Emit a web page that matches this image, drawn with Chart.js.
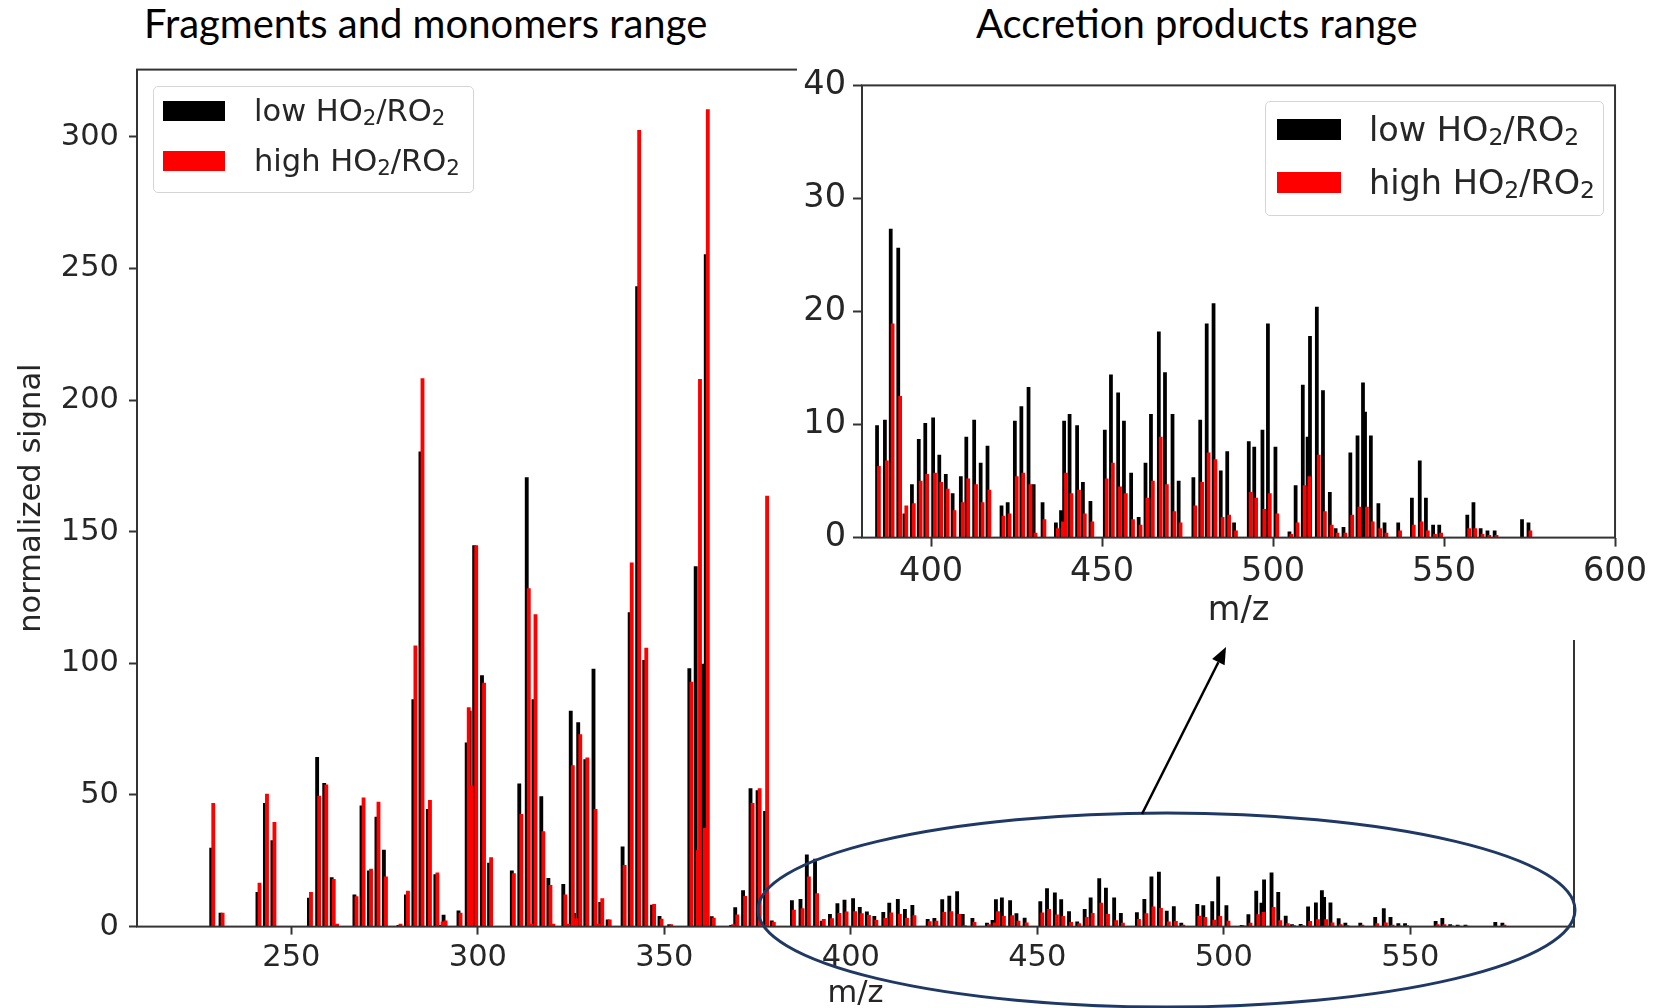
<!DOCTYPE html>
<html>
<head>
<meta charset="utf-8">
<title>Fragments / accretion products spectrum</title>
<script src="https://cdn.jsdelivr.net/npm/chart.js@4.4.1/dist/chart.umd.min.js"></script>
<style>
  html, body { margin: 0; padding: 0; background: #fff; }
  body { position: relative; width: 1653px; height: 1008px; overflow: hidden; font-family: 'DejaVu Sans', sans-serif; }
  #mainWrap { position: absolute; left: 0; top: 0; width: 1653px; height: 1008px; }
  #insetWrap { position: absolute; left: 797px; top: 50px; width: 856px; height: 590px; background: #fff; }
  .title { position: absolute; top: 3px; font-family: Lato, 'Open Sans', sans-serif; font-size: 40px; line-height: 1; color: #000; white-space: nowrap; }
  .legend { position: absolute; box-sizing: border-box; border: 1px solid #d5d5d5; border-radius: 5px; background: rgba(255,255,255,0.85); color: #262626; }
  .legend .swatch { position: absolute; }
  .legend .label { position: absolute; white-space: nowrap; line-height: 1.2; transform: translateY(-50%); }
  .legend .sub { position: relative; top: 0.2em; font-size: 70%; }
</style>
</head>
<body>
<div class="title" id="titleLeft" style="left:144px">Fragments and monomers range</div>
<div class="title" id="titleRight" style="left:976px">Accretion products range</div>

<div id="mainWrap"><canvas id="mainChart" width="1653" height="1008"></canvas></div>
<div class="legend" id="mainLegend" style="left:153px;top:86px;width:321px;height:107px"></div>

<div id="insetWrap"><canvas id="insetChart" width="856" height="590"></canvas></div>
<div class="legend" id="insetLegend" style="left:1265px;top:101px;width:339px;height:115px"></div>

<script>
// Spectrum: normalized signal per m/z, low vs high HO2/RO2

// fragments and monomers (m/z < 380)
const monomerMz = [228.5, 231.0, 240.9, 242.9, 244.9, 254.7, 256.9, 258.8, 260.8, 261.7,
    266.9, 268.8, 270.8, 272.8, 274.8, 278.7, 280.7, 282.7, 284.6, 286.6,
    288.6, 290.0, 290.8, 294.8, 297.0, 297.8, 299.0, 301.1, 303.0, 309.1,
    311.1, 313.1, 313.9, 314.9, 317.0, 318.9, 319.7, 322.9, 323.7, 324.9,
    325.8, 326.9, 328.8, 331.0, 331.8, 332.8, 334.8, 338.8, 340.7, 342.7,
    344.6, 346.7, 348.7, 351.3, 356.7, 358.4, 359.0, 360.3, 361.1, 362.7,
    367.9, 369.0, 371.1, 373.1, 375.0, 377.0, 378.8];
const monomerLow = [29.8, 5.1, 13.0, 46.8, 32.7, 10.8, 64.3, 54.4, 18.6, 0.2,
    12.1, 45.9, 21.2, 41.6, 29.1, 0.5, 12.1, 86.2, 180.3, 44.5,
    19.8, 0.5, 4.4, 6.0, 69.8, 81.9, 144.7, 95.3, 24.1, 21.2,
    54.2, 170.5, 0, 86.2, 49.4, 18.3, 0, 16.1, 0, 81.9,
    5.0, 77.5, 63.4, 97.8, 0, 9.2, 2.6, 30.3, 119.3, 243.1,
    101.1, 8.2, 3.9, 0.8, 98.0, 136.7, 0, 99.7, 255.2, 3.8,
    0.5, 7.2, 13.7, 52.4, 51.7, 43.8, 2.2];
const monomerHigh = [46.8, 5.1, 16.5, 50.3, 39.6, 13.0, 49.6, 53.8, 18.0, 1.0,
    11.4, 48.9, 21.8, 47.3, 18.9, 1.0, 13.5, 106.6, 208.1, 48.0,
    20.4, 1.8, 2.2, 5.1, 83.2, 53.5, 144.7, 92.5, 26.2, 20.1,
    42.6, 128.4, 1.0, 118.5, 36.1, 15.7, 1.0, 12.1, 1.0, 61.2,
    3.0, 72.9, 64.1, 44.5, 1.0, 10.6, 2.6, 23.3, 138.2, 302.4,
    105.8, 8.5, 2.9, 0.8, 92.9, 28.9, 207.9, 37.4, 310.3, 3.2,
    0.8, 4.5, 11.5, 46.8, 52.4, 163.5, 1.6];

// accretion products (m/z > 380), also shown in the zoomed panel
const accretionMz = [384.2, 386.5, 388.2, 390.4, 392.2, 394.4, 396.4, 398.3, 400.6, 402.4,
    404.3, 406.3, 408.7, 410.3, 412.6, 414.5, 416.5, 420.6, 422.4, 424.5,
    426.4, 428.5, 430.0, 432.6, 436.5, 438.0, 438.9, 440.5, 442.7, 444.4,
    446.6, 450.8, 452.6, 454.7, 456.4, 458.5, 460.7, 462.7, 464.3, 466.6,
    468.4, 470.6, 472.4, 476.7, 478.7, 480.6, 482.6, 484.7, 486.6, 488.6,
    492.9, 494.5, 496.9, 498.5, 500.7, 504.8, 506.6, 508.7, 510.1, 510.8,
    512.8, 514.6, 516.6, 518.3, 520.6, 522.6, 524.7, 526.3, 526.9, 528.6,
    530.8, 532.6, 536.6, 540.6, 542.9, 544.7, 546.8, 548.6, 556.8, 558.6,
    560.7, 562.7, 564.8, 572.8, 574.7];
const accretionLow = [9.9, 10.4, 27.3, 25.6, 2.1, 4.7, 8.7, 10.1, 10.6, 7.3,
    5.6, 3.9, 5.4, 8.9, 10.4, 6.6, 8.1, 2.8, 3.1, 10.3,
    11.6, 13.3, 4.7, 3.1, 1.3, 2.4, 10.3, 10.9, 9.9, 4.9,
    3.2, 9.5, 14.4, 12.8, 10.3, 5.7, 1.8, 6.6, 10.9, 18.2,
    14.6, 10.9, 5.0, 5.3, 10.4, 18.9, 20.7, 5.9, 7.6, 1.3,
    8.5, 8.0, 9.5, 18.9, 8.0, 0.5, 4.6, 13.5, 8.9, 17.8,
    20.4, 13.0, 4.0, 0.8, 0.9, 7.5, 9.0, 13.7, 11.1, 9.0,
    3.0, 1.3, 1.3, 3.5, 6.8, 3.5, 1.1, 1.1, 2.0, 3.1,
    0.8, 0.6, 0.6, 1.6, 1.3];
const accretionHigh = [6.3, 6.8, 18.9, 12.5, 2.8, 3.0, 5.0, 5.6, 5.7, 4.9,
    4.3, 2.4, 3.1, 5.2, 4.7, 3.1, 4.2, 1.9, 2.1, 5.4,
    5.7, 4.7, 0.4, 1.6, 0.8, 1.4, 5.7, 3.9, 4.2, 2.1,
    1.4, 5.2, 6.6, 4.5, 3.9, 1.6, 1.1, 3.5, 5.0, 8.9,
    4.7, 2.3, 1.3, 2.8, 4.9, 7.5, 6.9, 1.8, 2.0, 0.6,
    4.0, 3.5, 2.5, 3.9, 2.1, 0.3, 1.3, 4.6, 5.4, 0,
    7.3, 2.3, 1.1, 0.4, 0.4, 2.0, 2.7, 0, 2.7, 1.4,
    0.8, 0.4, 0.6, 1.1, 1.4, 0.6, 0.3, 0.4, 0.8, 0.8,
    0.3, 0.2, 0.2, 0, 0.6];

const seriesLabels = ['low HO₂/RO₂', 'high HO₂/RO₂'];
const seriesColors = ['#000000', '#ff0000'];

const mainXTicks = [250, 300, 350, 400, 450, 500, 550];
const mainYTicks = [0, 50, 100, 150, 200, 250, 300];
const insetXTicks = [400, 450, 500, 550, 600];
const insetYTicks = [0, 10, 20, 30, 40];

const mainXRange = [208.6, 593.9];
const mainYRange = [0, 325.5];
const insetXRange = [379.8, 600];
const insetYRange = [0, 40];

// the high series sits half a unit to the right of the low one
const redShift = 0.55;

Chart.defaults.font.family = "'DejaVu Sans', sans-serif";

function toPoints(mz, values) {
    return mz.map((m, i) => ({ x: m, y: values[i] }));
}

// box around the plot area (matplotlib spines)
const axesFrame = {
    id: 'axesFrame',
    afterDatasetsDraw(chart) {
        const { ctx, chartArea: a } = chart;
        ctx.save();
        ctx.strokeStyle = '#333';
        ctx.lineWidth = 2;
        ctx.strokeRect(a.left, a.top, a.right - a.left, a.bottom - a.top);
        ctx.restore();
    }
};

// ellipse round the accretion region and arrow up to the zoomed panel
const zoomMarks = {
    id: 'zoomMarks',
    afterDraw(chart) {
        const ctx = chart.ctx;
        ctx.save();
        ctx.strokeStyle = '#1f3864';
        ctx.lineWidth = 3;
        ctx.beginPath();
        ctx.ellipse(1166.5, 910, 408.5, 97, 0, 0, Math.PI * 2);
        ctx.stroke();

        const x0 = 1142, y0 = 814, x1 = 1226, y1 = 647;
        const ang = Math.atan2(y1 - y0, x1 - x0);
        const head = 17, half = 7;
        const bx = x1 - head * Math.cos(ang), by = y1 - head * Math.sin(ang);
        ctx.strokeStyle = '#000';
        ctx.lineWidth = 2.5;
        ctx.beginPath();
        ctx.moveTo(x0, y0);
        ctx.lineTo(bx, by);
        ctx.stroke();
        ctx.fillStyle = '#000';
        ctx.beginPath();
        ctx.moveTo(x1, y1);
        ctx.lineTo(bx + half * Math.sin(ang), by - half * Math.cos(ang));
        ctx.lineTo(bx - half * Math.sin(ang), by + half * Math.cos(ang));
        ctx.closePath();
        ctx.fill();
        ctx.restore();
    }
};

function makeSpectrum(canvas, opt) {
    const mz = monomerMz.concat(accretionMz);
    const low = monomerLow.concat(accretionLow);
    const high = monomerHigh.concat(accretionHigh);
    const font = { size: opt.fontSize };
    const tickGrid = { offset: false, drawOnChartArea: false, drawTicks: true, tickLength: opt.tickLength, tickWidth: 2, tickColor: '#333' };

    return new Chart(canvas, {
        type: 'bar',
        data: {
            datasets: [
                { label: seriesLabels[0], data: toPoints(mz, low), backgroundColor: seriesColors[0], xAxisID: 'x', order: 1 },
                { label: seriesLabels[1], data: toPoints(mz, high), backgroundColor: seriesColors[1], xAxisID: 'xr', order: 0 }
            ]
        },
        options: {
            responsive: false,
            animation: false,
            devicePixelRatio: 1,
            layout: { padding: opt.padding },
            datasets: { bar: { grouped: false, barThickness: opt.barWidth, borderWidth: 0 } },
            plugins: { legend: { display: false }, tooltip: { enabled: false } },
            scales: {
                x: {
                    type: 'linear',
                    min: opt.xRange[0],
                    max: opt.xRange[1],
                    offset: false,
                    afterBuildTicks: s => { s.ticks = opt.xTicks.map(v => ({ value: v })); },
                    afterFit: s => { s.height = opt.xAxisHeight; },
                    border: { display: false },
                    grid: tickGrid,
                    ticks: { font: font, color: '#262626', padding: opt.xTickPad, maxRotation: 0, autoSkip: false },
                    title: { display: true, text: 'm/z', color: '#262626', font: { size: opt.fontSize, lineHeight: 0.9 }, padding: { top: 0, bottom: opt.xTitlePad } }
                },
                xr: {
                    type: 'linear',
                    display: false,
                    offset: false,
                    min: opt.xRange[0] - redShift,
                    max: opt.xRange[1] - redShift
                },
                y: {
                    type: 'linear',
                    min: opt.yRange[0],
                    max: opt.yRange[1],
                    afterBuildTicks: s => { s.ticks = opt.yTicks.map(v => ({ value: v })); },
                    afterFit: s => { s.width = opt.yAxisWidth; },
                    border: { display: false },
                    grid: tickGrid,
                    ticks: { font: font, color: '#262626', padding: opt.yTickPad },
                    title: opt.yTitle
                        ? { display: true, text: opt.yTitle, color: '#262626', font: { size: opt.fontSize, lineHeight: 1 }, padding: { top: opt.yTitlePad, bottom: 0 } }
                        : { display: false }
                }
            }
        },
        plugins: [axesFrame].concat(opt.extraPlugins || [])
    });
}

// html legend from the chart's datasets, "₂" set as a lowered small 2
function buildLegend(chart, el, g) {
    chart.data.datasets.forEach((ds, i) => {
        const top = g.swTop + i * g.rowGap;
        const sw = document.createElement('div');
        sw.className = 'swatch';
        sw.style.cssText = `left:${g.swLeft}px;top:${top}px;width:${g.swW}px;height:${g.swH}px;background:${ds.backgroundColor}`;
        const tx = document.createElement('div');
        tx.className = 'label';
        tx.innerHTML = ds.label.split('₂').join('<span class="sub">2</span>');
        tx.style.cssText = `left:${g.textLeft}px;top:${top + g.swH / 2}px;font-size:${g.fontSize}px`;
        el.appendChild(sw);
        el.appendChild(tx);
    });
}

const mainChart = makeSpectrum(document.getElementById('mainChart'), {
    xRange: mainXRange, yRange: mainYRange, xTicks: mainXTicks, yTicks: mainYTicks,
    fontSize: 30.5, tickLength: 8, barWidth: 3.2,
    padding: { left: 0, top: 69.6, right: 79, bottom: 0 },
    yAxisWidth: 137, xAxisHeight: 81.4,
    xTickPad: 5, yTickPad: 10, xTitlePad: 0,
    yTitle: 'normalized signal', yTitlePad: 17,
    extraPlugins: [zoomMarks]
});

const insetChart = makeSpectrum(document.getElementById('insetChart'), {
    xRange: insetXRange, yRange: insetYRange, xTicks: insetXTicks, yTicks: insetYTicks,
    fontSize: 33.5, tickLength: 9, barWidth: 3.1,
    padding: { left: 0, top: 35.4, right: 34, bottom: 0 },
    yAxisWidth: 65, xAxisHeight: 102.4,
    xTickPad: 6, yTickPad: 7, xTitlePad: 14
});

buildLegend(mainChart, document.getElementById('mainLegend'),
    { swLeft: 9, swTop: 14, swW: 62, swH: 20, rowGap: 50, textLeft: 100, fontSize: 30.5 });
buildLegend(insetChart, document.getElementById('insetLegend'),
    { swLeft: 11, swTop: 17, swW: 64, swH: 21, rowGap: 53, textLeft: 103, fontSize: 33.5 });
</script>
</body>
</html>
